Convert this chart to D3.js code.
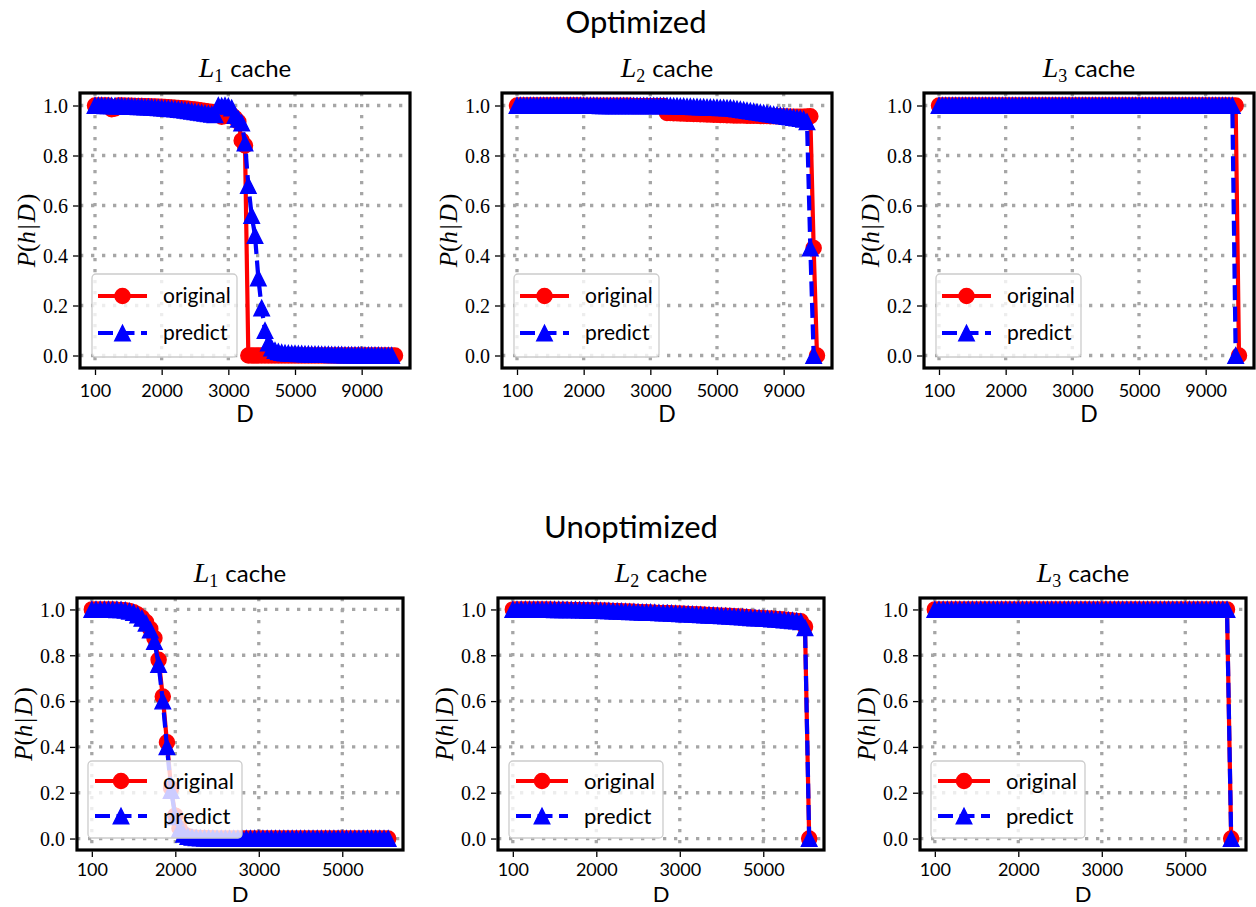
<!DOCTYPE html>
<html><head><meta charset="utf-8">
<script src="https://cdn.jsdelivr.net/npm/d3@7"></script>
<style>body{margin:0;background:#fff}svg{display:block}</style>
</head><body><svg id="c" width="1256" height="907"></svg>
<script>
// ---------- data ----------
const optTickIdx = [0, 20, 40, 60, 80];
const optTickLabels = ["100", "2000", "3000", "5000", "9000"];
const unoptTickIdx = [0, 20, 40, 60];
const unoptTickLabels = ["100", "2000", "3000", "5000"];
const yTicks = [0, 0.2, 0.4, 0.6, 0.8, 1.0];
const yTickLabels = ["0.0", "0.2", "0.4", "0.6", "0.8", "1.0"];
const rowTitles = ["Optimized", "Unoptimized"];
const cacheLevels = ["1", "2", "3"];
const seriesNames = ["original", "predict"];

const optL1Original = [1,1,1,1,1, 0.985,0.988,
 1,1,0.999,0.999,0.999,0.998,0.998,0.998,0.997,
 0.997,0.996,0.996,0.995,0.995,0.994,0.993,0.992,0.991,0.99,0.989,0.988,0.987,0.985,0.984,
 0.982,0.98,0.978,0.976,0.974,0.972,0.97,
 0.955,0.958,0.965,0.962,0.95,0.935,0.86,0.84,
 0,0,0,0,0,0,0,0,0,0,0,0,0,0,0,0,0,0,0,0,0,0,0,0,0,0,0,0,0,0,0,0,0,0,0,0,0,0,0,0,0,0,0,0,0];
const optL1Predict = [1,1,1,0.999,0.999,0.999,0.998,0.998,0.998,0.997,0.997,
 0.996,0.996,0.995,0.995,0.994,0.994,0.993,0.992,0.991,0.99,
 0.989,0.988,0.987,0.986,0.984,0.983,0.981,0.979,0.977,0.975,
 0.973,0.971,0.969,0.967,0.965,0.963,
 1.0,0.998,1.0,0.997,0.99,
 0.96,0.945,0.93,0.85,
 0.68,0.56,0.48,0.31,0.19,0.1,0.05,0.03,0.02,0.015,0.012,0.01,0.009,
 0.008,0.008,0.007,0.007,0.006,0.006,0.005,0.005,0.005,0.004,0.004,0.004,0.003,0.003,0.003,0.003,
 0.002,0.002,0.002,0.002,0.002,0.001,0.001,0.001,0.001,0.001,0.001,0,0,0,0];

const optL2Original = [1,1,1,1,1,1,1,1,1,1,1,1,1,1,1,1,1,1,1,1,
 0.999,0.999,0.999,0.999,0.999,0.999,0.999,0.999,0.999,0.999,0.999,0.999,0.999,0.999,0.999,
 0.998,0.998,0.998,0.998,0.998,0.998,0.998,0.998,0.998,0.998,
 0.97,0.97,0.969,0.969,0.968,0.968,0.967,0.967,0.966,0.966,
 0.965,0.965,0.964,0.964,0.963,0.963,0.962,0.962,0.961,0.961,
 0.96,0.96,0.96,0.96,0.959,0.959,0.959,0.959,0.958,0.958,
 0.958,0.957,0.957,0.957,0.956,0.956,0.956,0.955,0.955,0.955,
 0.955,0.955,0.956,0.957,
 0.43,0];
const optL2Predict = [1,1,1,1,1,1,1,1,1,1,1,1,1,1,1,1,1,1,1,1,1,1,1,1,1,
 0.999,0.999,0.999,0.999,0.999,0.999,0.999,0.999,0.999,0.999,0.999,0.999,0.999,0.999,0.999,0.999,0.999,0.999,0.999,0.999,
 0.999,0.999,0.998,0.998,0.997,0.997,0.996,0.996,0.995,0.995,
 0.994,0.994,0.993,0.993,0.992,0.992,0.991,0.991,0.99,0.99,
 0.988,0.986,0.984,0.982,0.98,0.978,0.976,0.974,0.972,0.97,
 0.968,0.966,0.964,0.962,0.96,0.958,0.956,0.954,0.952,0.95,
 0.948,0.945,0.935,
 0.43,0];

const optL3Original = [1,1,1,1,1,1,1,1,1,1,1,1,1,1,1,1,1,1,1,1,1,1,1,1,1,1,1,1,1,1,
 1,1,1,1,1,1,1,1,1,1,1,1,1,1,1,1,1,1,1,1,1,1,1,1,1,1,1,1,1,1,
 1,1,1,1,1,1,1,1,1,1,1,1,1,1,1,1,1,1,1,1,1,1,1,1,1,1,1,1,1,1,0];
const optL3Predict = [1,1,1,1,1,1,1,1,1,1,1,1,1,1,1,1,1,1,1,1,1,1,1,1,1,1,1,1,1,1,
 1,1,1,1,1,1,1,1,1,1,1,1,1,1,1,1,1,1,1,1,1,1,1,1,1,1,1,1,1,1,
 1,1,1,1,1,1,1,1,1,1,1,1,1,1,1,1,1,1,1,1,1,1,1,1,1,1,1,1,1,0];

const unoptL1Original = [1,1,1,1,1,1,
 0.999,0.998,0.996,0.993,0.988,0.978,0.964,0.945,
 0.915,0.875,0.78,0.62,0.42,0.22,0.1,0.045,0.02,0.01,0.005,
 0.003,0.002,0.002,0.001,0.001,
 0,0,0,0,0,0,0,0,0,0,0,0,0,0,0,0,0,0,0,0,0,0,0,0,0,0,0,0,0,0,0,0,0,0,0,0,0,0,0,0,0,0];
const unoptL1Predict = [1,1,1,1,1,1,
 0.999,0.998,0.996,0.992,0.986,0.976,0.961,0.94,
 0.91,0.86,0.76,0.6,0.4,0.21,0.095,0.04,0.018,0.009,0.005,
 0.003,0.002,0.001,0.001,0.001,
 0,0,0,0,0,0,0,0,0,0,0,0,0,0,0,0,0,0,0,0,0,0,0,0,0,0,0,0,0,0,0,0,0,0,0,0,0,0,0,0,0,0];

const unoptL2Original = [1,1,1,1,1,1,1,1,1,1,
 0.999,0.999,0.999,0.999,0.998,0.998,0.998,0.997,0.997,0.996,0.996,
 0.995,0.995,0.994,0.993,0.993,0.992,0.991,0.991,0.99,0.989,0.988,0.988,0.987,0.986,0.985,0.985,0.984,0.983,0.982,0.982,0.981,0.98,0.979,0.979,0.978,
 0.977,0.976,0.975,0.974,0.973,0.972,0.971,0.97,0.969,0.968,0.967,0.965,0.964,0.963,0.962,0.961,0.96,0.958,0.957,0.956,0.954,0.952,0.95,0.948,
 0.925,0];
const unoptL2Predict = [1,1,1,1,1,1,1,1,1,1,
 0.999,0.999,0.999,0.998,0.998,0.998,0.997,0.997,0.996,0.996,0.995,
 0.995,0.994,0.994,0.993,0.992,0.992,0.991,0.99,0.99,0.989,0.988,0.987,0.987,0.986,0.985,0.984,0.984,0.983,0.982,0.981,0.98,0.98,0.979,0.978,0.977,
 0.976,0.975,0.974,0.973,0.972,0.971,0.97,0.969,0.968,0.967,0.966,0.964,0.963,0.962,0.961,0.96,0.958,0.957,0.956,0.954,0.953,0.951,0.949,0.946,
 0.92,0];

const unoptL3Original = [1,1,1,1,1,1,1,1,1,1,1,1,1,1,1,1,1,1,1,1,1,1,1,1,1,1,1,1,1,1,
 1,1,1,1,1,1,1,1,1,1,1,1,1,1,1,1,1,1,1,1,1,1,1,1,1,1,1,1,1,1,
 1,1,1,1,1,1,1,1,1,1,1,0];
const unoptL3Predict = [1,1,1,1,1,1,1,1,1,1,1,1,1,1,1,1,1,1,1,1,1,1,1,1,1,1,1,1,1,1,
 1,1,1,1,1,1,1,1,1,1,1,1,1,1,1,1,1,1,1,1,1,1,1,1,1,1,1,1,1,1,
 1,1,1,1,1,1,1,1,1,1,1,0];

// ---------- layout ----------
const SANS = "Lato, 'Open Sans', sans-serif";
const SERIF = "'Liberation Serif', 'DejaVu Serif', serif";
const RED = "#ff0000", BLUE = "#0000ff";

const svg = d3.select("#c");

const rows = [
  { title: rowTitles[0], titleX: 636, titleY: 33, subY: 77, y0: 93, h: 275, xs: [80, 502, 924], w: 330,
    tickIdx: optTickIdx, tickLabels: optTickLabels, tickLabelDy: 29, xlabDy: 54, tickFs: 18, xlabFs: 23,
    data: [[optL1Original, optL1Predict], [optL2Original, optL2Predict], [optL3Original, optL3Predict]],
    leg: { dx: 12, dyb: 11, w: 145, h: 83, r1: 22, r2: 59, hx0: 6, hx1: 55, tx: 71, fs: 21 } },
  { title: rowTitles[1], titleX: 631, titleY: 538, subY: 582, y0: 598, h: 252, xs: [77, 498, 920], w: 326,
    tickIdx: unoptTickIdx, tickLabels: unoptTickLabels, tickLabelDy: 25.5, xlabDy: 52, tickFs: 18, xlabFs: 22,
    data: [[unoptL1Original, unoptL1Predict], [unoptL2Original, unoptL2Predict], [unoptL3Original, unoptL3Predict]],
    leg: { dx: 11, dyb: 12, w: 154, h: 77, r1: 20, r2: 55, hx0: 7, hx1: 59, tx: 75, fs: 22 } }
];

const MS = 15.5, LW = 4.2;

function triPath(s) { return `M0,${-s/2}L${s/2},${s/2}L${-s/2},${s/2}Z`; }

let clipId = 0;
rows.forEach(row => {
  svg.append("text").attr("x", row.titleX).attr("y", row.titleY).attr("text-anchor", "middle")
    .attr("font-family", SANS).attr("font-size", 31).attr("fill", "#000").text(row.title);

  row.data.forEach((pair, pi) => {
    const x0 = row.xs[pi], y0 = row.y0, w = row.w, h = row.h;
    const [orig, pred] = pair;
    const n = Math.max(orig.length, pred.length) - 1;
    const x = d3.scaleLinear().domain([-0.05 * n, 1.05 * n]).range([x0, x0 + w]);
    const y = d3.scaleLinear().domain([-0.05, 1.05]).range([y0 + h, y0]);
    const g = svg.append("g");

    // subplot title
    const cx = x0 + w / 2;
    const t = g.append("text").attr("x", cx).attr("y", row.subY).attr("text-anchor", "middle").attr("fill", "#000");
    t.append("tspan").attr("font-family", SERIF).attr("font-style", "italic").attr("font-size", 28).text("L");
    t.append("tspan").attr("font-family", SERIF).attr("font-size", 18).attr("dy", 5).text(cacheLevels[pi]);
    t.append("tspan").attr("font-family", SANS).attr("font-size", 24).attr("dy", -5).attr("dx", 7).text("cache");

    // grid
    const grid = g.append("g").attr("stroke", "#a6a6a6").attr("stroke-width", 3.3).attr("stroke-dasharray", "3.3,7.7");
    row.tickIdx.forEach(v => grid.append("line").attr("x1", x(v)).attr("x2", x(v)).attr("y1", y0).attr("y2", y0 + h));
    yTicks.forEach(v => grid.append("line").attr("x1", x0).attr("x2", x0 + w).attr("y1", y(v)).attr("y2", y(v)));

    // clip
    const cid = "clip" + (clipId++);
    svg.append("clipPath").attr("id", cid).append("rect").attr("x", x0).attr("y", y0).attr("width", w).attr("height", h);
    const plot = g.append("g").attr("clip-path", `url(#${cid})`);

    const line = d3.line().x((d, i) => x(i)).y(d => y(d));
    // original
    plot.append("path").datum(orig).attr("d", line).attr("fill", "none").attr("stroke", RED)
      .attr("stroke-width", LW).attr("stroke-linejoin", "round");
    plot.append("g").selectAll("circle").data(orig).join("circle")
      .attr("cx", (d, i) => x(i)).attr("cy", d => y(d)).attr("r", MS / 2 - 0.2)
      .attr("fill", RED).attr("stroke", RED).attr("stroke-width", 1.4);
    // predict
    plot.append("path").datum(pred).attr("d", line).attr("fill", "none").attr("stroke", BLUE)
      .attr("stroke-width", LW).attr("stroke-dasharray", "15,6.5");
    plot.append("g").selectAll("path").data(pred).join("path")
      .attr("d", triPath(MS)).attr("transform", (d, i) => `translate(${x(i)},${y(d)})`)
      .attr("fill", BLUE).attr("stroke", BLUE).attr("stroke-width", 1.4).attr("stroke-linejoin", "miter");

    // frame
    g.append("rect").attr("x", x0).attr("y", y0).attr("width", w).attr("height", h)
      .attr("fill", "none").attr("stroke", "#000").attr("stroke-width", 3.2);

    // axes
    const xa = d3.axisBottom(x).tickValues(row.tickIdx).tickFormat((d, i) => row.tickLabels[i]).tickSize(5.5);
    const gx = g.append("g").attr("transform", `translate(0,${y0 + h + 1.5})`).call(xa);
    gx.select(".domain").remove();
    gx.selectAll("line").attr("stroke", "#000").attr("stroke-width", 1.3);
    gx.selectAll("text").attr("y", row.tickLabelDy - 1.5).attr("dy", 0).attr("font-family", SANS)
      .attr("font-size", row.tickFs).attr("fill", "#000");

    const ya = d3.axisLeft(y).tickValues(yTicks).tickFormat((d, i) => yTickLabels[i]).tickSize(5.5);
    const gy = g.append("g").attr("transform", `translate(${x0 - 1.5},0)`).call(ya);
    gy.select(".domain").remove();
    gy.selectAll("line").attr("stroke", "#000").attr("stroke-width", 1.3);
    gy.selectAll("text").attr("x", -10.5).attr("dy", "0.34em").attr("font-family", SERIF)
      .attr("font-size", 20).attr("fill", "#000");

    // x label
    g.append("text").attr("x", cx).attr("y", y0 + h + row.xlabDy).attr("text-anchor", "middle")
      .attr("font-family", SANS).attr("font-size", row.xlabFs).attr("fill", "#000").text("D");

    // y label
    const yl = g.append("text").attr("transform", `translate(${x0 - 45},${y0 + h / 2}) rotate(-90)`)
      .attr("text-anchor", "middle").attr("font-family", SERIF).attr("font-size", 25).attr("fill", "#000");
    yl.append("tspan").attr("font-style", "italic").text("P");
    yl.append("tspan").text("(");
    yl.append("tspan").attr("font-style", "italic").text("h");
    yl.append("tspan").attr("dx", 2).text("|");
    yl.append("tspan").attr("dx", 2).attr("font-style", "italic").text("D");
    yl.append("tspan").attr("dx", 2).text(")");

    // legend
    const L = row.leg;
    const lx = x0 + L.dx, ly = y0 + h - L.dyb - L.h;
    const lg = g.append("g").attr("transform", `translate(${lx},${ly})`);
    lg.append("rect").attr("width", L.w).attr("height", L.h).attr("rx", 4)
      .attr("fill", "#fff").attr("fill-opacity", 0.8).attr("stroke", "#cccccc").attr("stroke-width", 1.3);
    const mid = (L.hx0 + L.hx1) / 2;
    // original
    lg.append("line").attr("x1", L.hx0).attr("x2", L.hx1).attr("y1", L.r1).attr("y2", L.r1)
      .attr("stroke", RED).attr("stroke-width", LW);
    lg.append("circle").attr("cx", mid).attr("cy", L.r1).attr("r", MS / 2 - 0.2).attr("fill", RED)
      .attr("stroke", RED).attr("stroke-width", 1.4);
    lg.append("text").attr("x", L.tx).attr("y", L.r1).attr("dy", "0.35em").attr("font-family", SANS)
      .attr("font-size", L.fs).attr("fill", "#000").text(seriesNames[0]);
    // predict
    lg.append("line").attr("x1", L.hx0).attr("x2", L.hx1).attr("y1", L.r2).attr("y2", L.r2)
      .attr("stroke", BLUE).attr("stroke-width", LW).attr("stroke-dasharray", "15,6.5");
    lg.append("path").attr("d", triPath(MS)).attr("transform", `translate(${mid},${L.r2})`)
      .attr("fill", BLUE).attr("stroke", BLUE).attr("stroke-width", 1.4);
    lg.append("text").attr("x", L.tx).attr("y", L.r2).attr("dy", "0.35em").attr("font-family", SANS)
      .attr("font-size", L.fs).attr("fill", "#000").text(seriesNames[1]);
  });
});
</script></body></html>
